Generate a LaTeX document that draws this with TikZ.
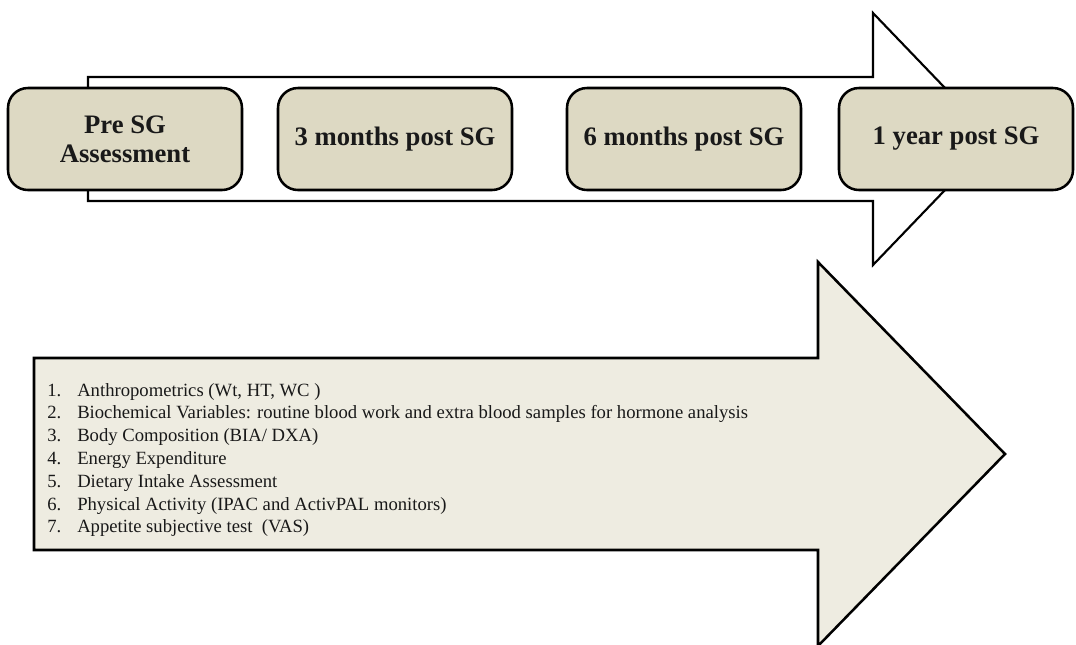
\documentclass[tikz,border=0pt]{standalone}
\usepackage{fontspec}
\setmainfont{Liberation Serif}
\usepackage{xcolor}
\usepackage{tikz}
\definecolor{sgtan}{HTML}{DDD9C3}
\definecolor{sglight}{HTML}{EEECE1}
\tikzset{
  stage/.style={draw=black,fill=sgtan,line width=1.9pt,rounded corners=15pt,
    minimum width=175.5pt,minimum height=76.5pt,align=center,
    font=\fontsize{20}{21.75}\selectfont\bfseries,text=black!90},
}

\begin{document}
\begin{tikzpicture}[x=0.75pt,y=-0.75pt]
  \useasboundingbox (0,0) rectangle (1076,644);
  \draw[line width=1.6pt,fill=white] (88,77) -- (873,77) -- (873,13) -- (994,139)
    -- (873,265) -- (873,201) -- (88,201) -- cycle;
  \node[stage] (pre) at (125,139) {Pre SG\\Assessment};
  \node[stage] (m3) at (395,139) {3 months post SG};
  \node[stage] (m6) at (684,139) {6 months post SG};
  \node[stage] (y1) at (956,139) {1 year post SG};
  \draw[line width=1.9pt,fill=sglight] (34,358) -- (818,358) -- (818,262) -- (1005,454)
    -- (818,646) -- (818,550) -- (34,550) -- cycle;
  \node[anchor=west,inner sep=0pt,text=black!90] (items) at (47,460)
    {\fontsize{14}{17.1}\selectfont
     \begin{tabular}{@{}p{22.5pt}@{}l@{}}
       1. & Anthropometrics (Wt, HT, WC )\\
       2. & Biochemical Variables: routine blood work and extra blood samples for hormone analysis\\
       3. & Body Composition (BIA/ DXA)\\
       4. & Energy Expenditure\\
       5. & Dietary Intake Assessment\\
       6. & Physical Activity (IPAC and ActivPAL monitors)\\
       7. & Appetite subjective test \ (VAS)
     \end{tabular}};
\end{tikzpicture}
\end{document}
